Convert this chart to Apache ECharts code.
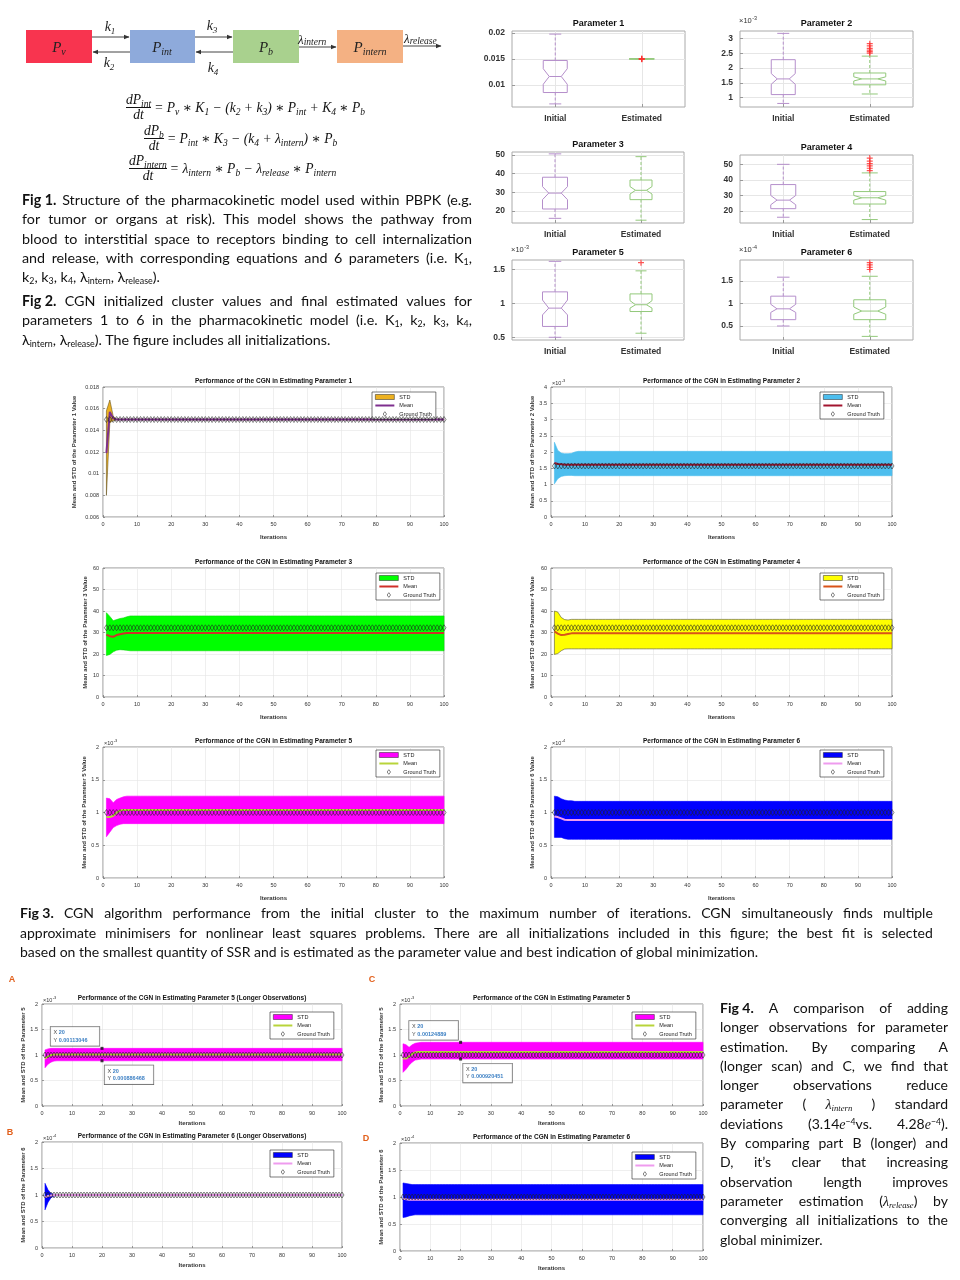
<!DOCTYPE html>
<html>
<head>
<meta charset="utf-8">
<script src="https://cdn.jsdelivr.net/npm/echarts@6/dist/echarts.min.js"></script>
<style>
html,body{margin:0;padding:0;background:#fff;}
#page{position:relative;width:960px;height:1280px;overflow:hidden;background:#fff;}
#chart{position:absolute;left:0;top:0;width:960px;height:1280px;}
.tb{position:absolute;font-family:'Lato','Open Sans',sans-serif;color:#111;}
.row{white-space:nowrap;overflow:visible;}
.inner{display:inline-block;white-space:nowrap;}
.tb sub{font-size:0.62em;vertical-align:-0.25em;line-height:0;}
.tb sup{font-size:0.62em;vertical-align:0.45em;line-height:0;}
var{font-family:'Liberation Serif','DejaVu Serif',serif;font-style:italic;}
.eq{position:absolute;display:flex;align-items:center;font-family:'Liberation Serif','DejaVu Serif',serif;font-style:italic;font-size:13.6px;color:#111;white-space:nowrap;}
.frac{display:inline-flex;flex-direction:column;align-items:center;line-height:14px;margin-right:3px;}
.frac .den{border-top:1px solid #111;padding:0 1px;align-self:stretch;text-align:center;}
.eq sub{font-size:0.7em;vertical-align:-0.3em;line-height:0;}
svg text{font-family:'Liberation Serif','DejaVu Serif',serif;font-style:italic;fill:#222;}
</style>
</head>
<body>
<div id="page">
<div id="chart"></div>
<svg width="480" height="80" style="position:absolute;left:0;top:0">
  <defs>
    <marker id="ah" markerWidth="6" markerHeight="6" refX="5" refY="3" orient="auto" markerUnits="userSpaceOnUse">
      <path d="M0,0.8 L5.5,3 L0,5.2 Z" fill="#333"/>
    </marker>
  </defs>
  <rect x="26" y="30" width="66" height="33" fill="#F8344F"/>
  <rect x="130" y="30" width="65" height="33" fill="#8EAADB"/>
  <rect x="233" y="30" width="66" height="33" fill="#A9D18E"/>
  <rect x="337" y="30" width="66" height="33" fill="#F4B183"/>
  <text x="59" y="52" font-size="15" text-anchor="middle">P<tspan font-size="10" dy="3">v</tspan></text>
  <text x="162" y="52" font-size="15" text-anchor="middle">P<tspan font-size="10" dy="3">int</tspan></text>
  <text x="266" y="52" font-size="15" text-anchor="middle">P<tspan font-size="10" dy="3">b</tspan></text>
  <text x="370" y="52" font-size="15" text-anchor="middle">P<tspan font-size="10" dy="3">intern</tspan></text>
  <line x1="92" y1="37" x2="129" y2="37" stroke="#444" stroke-width="1" marker-end="url(#ah)"/>
  <line x1="130" y1="52" x2="93" y2="52" stroke="#444" stroke-width="1" marker-end="url(#ah)"/>
  <line x1="195" y1="37" x2="232" y2="37" stroke="#444" stroke-width="1" marker-end="url(#ah)"/>
  <line x1="233" y1="52" x2="196" y2="52" stroke="#444" stroke-width="1" marker-end="url(#ah)"/>
  <line x1="299" y1="47" x2="336" y2="47" stroke="#444" stroke-width="1" marker-end="url(#ah)"/>
  <line x1="403" y1="46" x2="441" y2="46" stroke="#444" stroke-width="1" marker-end="url(#ah)"/>
  <text x="110" y="31" font-size="14" text-anchor="middle">k<tspan font-size="9" dy="3">1</tspan></text>
  <text x="109" y="67" font-size="14" text-anchor="middle">k<tspan font-size="9" dy="3">2</tspan></text>
  <text x="212" y="30" font-size="14" text-anchor="middle">k<tspan font-size="9" dy="3">3</tspan></text>
  <text x="213" y="72" font-size="14" text-anchor="middle">k<tspan font-size="9" dy="3">4</tspan></text>
  <text x="298" y="44" font-size="13">λ<tspan font-size="9.5" dy="1">intern</tspan></text>
  <text x="404" y="43" font-size="13">λ<tspan font-size="9.5" dy="1">release</tspan></text>
</svg>

<div class="eq" style="left:126px;top:93px">
  <span class="frac"><span>dP<sub>int</sub></span><span class="den">dt</span></span>
  <span>= P<sub>v</sub> ∗ K<sub>1</sub> − (k<sub>2</sub> + k<sub>3</sub>) ∗ P<sub>int</sub> + K<sub>4</sub> ∗ P<sub>b</sub></span>
</div>
<div class="eq" style="left:144px;top:124px">
  <span class="frac"><span>dP<sub>b</sub></span><span class="den">dt</span></span>
  <span>= P<sub>int</sub> ∗ K<sub>3</sub> − (k<sub>4</sub> + λ<sub>intern</sub>) ∗ P<sub>b</sub></span>
</div>
<div class="eq" style="left:129px;top:154px">
  <span class="frac"><span>dP<sub>intern</sub></span><span class="den">dt</span></span>
  <span>= λ<sub>intern</sub> ∗ P<sub>b</sub> − λ<sub>release</sub> ∗ P<sub>intern</sub></span>
</div>
</div>

<script>
// ====================== DATA ======================
const ITERATIONS = 100;
const boxCategories = ['Initial', 'Estimated'];

// Fig 2 box plots: [lower whisker, Q1, median, Q3, upper whisker, notch low, notch high]
const p1Initial   = [0.0063, 0.0085, 0.0116, 0.0147, 0.0198, 0.0101, 0.0131];
const p1Estimated = [0.0150, 0.0150, 0.0150, 0.0150, 0.0150, 0.0150, 0.0150];
const p1Outliers  = [0.01493, 0.0150, 0.01507];
const p1Ticks     = [0.01, 0.015, 0.02];

const p2Initial   = [0.80, 1.10, 1.63, 2.28, 3.17, 1.45, 1.81];   // x1e-3
const p2Estimated = [1.12, 1.43, 1.63, 1.83, 2.40, 1.56, 1.70];
const p2Outliers  = [2.50, 2.55, 2.60, 2.66, 2.75, 2.82];
const p2Ticks     = [1, 1.5, 2, 2.5, 3];

const p3Initial   = [16, 21, 29.5, 38, 50.5, 26, 33];
const p3Estimated = [15, 26, 31, 36.5, 49, 29, 33];
const p3Outliers  = [];
const p3Ticks     = [20, 30, 40, 50];

const p4Initial   = [16, 21.5, 27, 37, 50, 24, 30];
const p4Estimated = [14.5, 24.5, 28.5, 32.5, 44.5, 27, 30];
const p4Outliers  = [46, 47.5, 49, 50.5, 52, 54];
const p4Ticks     = [20, 30, 40, 50];

const p5Initial   = [0.50, 0.66, 0.93, 1.17, 1.62, 0.83, 1.05];   // x1e-3
const p5Estimated = [0.56, 0.88, 0.98, 1.14, 1.48, 0.93, 1.04];
const p5Outliers  = [1.60];
const p5Ticks     = [0.5, 1, 1.5];

const p6Initial   = [0.50, 0.64, 0.88, 1.16, 1.58, 0.80, 0.98];   // x1e-4
const p6Estimated = [0.27, 0.64, 0.83, 1.08, 1.60, 0.76, 0.92];
const p6Outliers  = [1.75, 1.80, 1.85, 1.90];
const p6Ticks     = [0.5, 1, 1.5];

// Fig 3 / Fig 4: values for the first iterations, then the settled value up to iteration 100
const pf1LowerStart = [0.0080, 0.0147, 0.0149];  const pf1Lower = 0.01497;
const pf1UpperStart = [0.0158, 0.0168, 0.0153];  const pf1Upper = 0.01503;
const pf1MeanStart  = [0.0119, 0.0157, 0.0151];  const pf1Mean  = 0.0150;
const pf1Truth = 0.0150;

const pf2LowerStart = [1.02, 1.18, 1.25, 1.27, 1.28, 1.28, 1.27]; const pf2Lower = 1.27;  // x1e-3
const pf2UpperStart = [2.30, 2.05, 1.97, 1.95, 1.95, 1.96, 2.00]; const pf2Upper = 2.02;
const pf2MeanStart  = [1.66, 1.63, 1.62];                           const pf2Mean  = 1.61;
const pf2Truth = 1.57;

const pf3LowerStart = [19.3, 19.8, 21.0, 21.8, 22.0, 21.9, 21.7]; const pf3Lower = 21.5;
const pf3UpperStart = [39.2, 37.5, 35.5, 36.0, 36.5, 36.8, 37.3]; const pf3Upper = 37.7;
const pf3MeanStart  = [29.0, 28.3, 28.0, 28.8, 29.2, 29.5];       const pf3Mean  = 29.8;
const pf3Truth = 32.2;

const pf4LowerStart = [19.8, 20.2, 21.5, 22.3, 22.4];             const pf4Lower = 22.4;
const pf4UpperStart = [40.0, 39.5, 37.0, 36.0, 35.8];             const pf4Upper = 36.1;
const pf4MeanStart  = [30.5, 29.5, 28.8, 29.0, 29.3];             const pf4Mean  = 29.6;
const pf4Truth = 32.2;

const pf5LowerStart = [0.63, 0.70, 0.77, 0.80, 0.82];             const pf5Lower = 0.83;  // x1e-3
const pf5UpperStart = [1.22, 1.21, 1.15, 1.20, 1.22, 1.24];       const pf5Upper = 1.25;
const pf5MeanStart  = [0.93, 0.93, 0.95, 1.00, 1.03];             const pf5Mean  = 1.04;
const pf5Truth = 1.00;

const pf6LowerStart = [0.62, 0.62, 0.62, 0.60];                   const pf6Lower = 0.59;  // x1e-4
const pf6UpperStart = [1.25, 1.24, 1.21, 1.19, 1.18, 1.18];       const pf6Upper = 1.17;
const pf6MeanStart  = [0.94, 0.93, 0.91, 0.89];                   const pf6Mean  = 0.885;
const pf6Truth = 1.00;

const pfALowerStart = [0.75, 0.82, 0.86, 0.88];                   const pfALower = 0.886468;  // x1e-3
const pfAUpperStart = [1.10, 1.12, 1.13];                         const pfAUpper = 1.13046;
const pfAMeanStart  = [0.93, 0.97, 1.00];                         const pfAMean  = 1.008;
const pfATruth = 1.00;

const pfBLowerStart = [0.72, 0.86, 0.95, 0.98];                   const pfBLower = 0.995;  // x1e-4
const pfBUpperStart = [1.22, 1.10, 1.03, 1.01];                   const pfBUpper = 1.005;
const pfBMeanStart  = [0.96, 0.98, 0.99];                         const pfBMean  = 1.00;
const pfBTruth = 1.00;

const pfCLowerStart = [0.66, 0.72, 0.80, 0.86, 0.90, 0.91];       const pfCLower = 0.920451;  // x1e-3
const pfCUpperStart = [1.22, 1.20, 1.15, 1.20, 1.23, 1.24];       const pfCUpper = 1.24889;
const pfCMeanStart  = [0.93, 0.93, 0.97, 1.02, 1.05];             const pfCMean  = 1.06;
const pfCTruth = 1.00;

const pfDLowerStart = [0.62, 0.63, 0.65, 0.66];                   const pfDLower = 0.67;  // x1e-4
const pfDUpperStart = [1.26, 1.25, 1.24];                         const pfDUpper = 1.23;
const pfDMeanStart  = [0.97, 0.96];                               const pfDMean  = 0.95;
const pfDTruth = 1.00;

// data tips (Fig 4 A and C)
const tipIteration = 20;
const tipsA = [{ y: 1.13046, text: '0.00113046' }, { y: 0.886468, text: '0.000886468' }];
const tipsC = [{ y: 1.24889, text: '0.00124889' }, { y: 0.920451, text: '0.000920451' }];

// ====================== TEXT BLOCKS ======================
const fig1Lines = [
  '<b>Fig&nbsp;1.</b> Structure of the pharmacokinetic model used within PBPK (e.g.',
  'for tumor or organs at risk). This model shows the pathway from',
  'blood to interstitial space to receptors binding to cell internalization',
  'and release, with corresponding equations and 6 parameters (i.e. K<sub>1</sub>,',
  'k<sub>2</sub>, k<sub>3</sub>, k<sub>4</sub>, λ<sub>intern</sub>, λ<sub>release</sub>).'
];
const fig2Lines = [
  '<b>Fig&nbsp;2.</b> CGN initialized cluster values and final estimated values for',
  'parameters 1 to 6 in the pharmacokinetic model (i.e. K<sub>1</sub>, k<sub>2</sub>, k<sub>3</sub>, k<sub>4</sub>,',
  'λ<sub>intern</sub>, λ<sub>release</sub>). The figure includes all initializations.'
];
const fig3Lines = [
  '<b>Fig&nbsp;3.</b> CGN algorithm performance from the initial cluster to the maximum number of iterations. CGN simultaneously finds multiple',
  'approximate minimisers for nonlinear least squares problems. There are all initializations included in this figure; the best fit is selected',
  'based on the smallest quantity of SSR and is estimated as the parameter value and best indication of global minimization.'
];
const fig4Lines = [
  '<b>Fig&nbsp;4.</b> A comparison of adding',
  'longer observations for parameter',
  'estimation. By comparing A',
  '(longer scan) and C, we find that',
  'longer observations reduce',
  'parameter ( <var>λ<sub>intern</sub></var> ) standard',
  'deviations (3.14<var>e</var><sup>−4</sup>vs. 4.28<var>e</var><sup>−4</sup>).',
  'By comparing part B (longer) and',
  'D, it’s clear that increasing',
  'observation length improves',
  'parameter estimation (<var>λ<sub>release</sub></var>) by',
  'converging all initializations to the',
  'global minimizer.'
];

function textBlock(o) {
  const box = document.createElement('div');
  box.className = 'tb';
  box.style.left = o.left + 'px'; box.style.top = o.top + 'px';
  box.style.width = o.width + 'px'; box.style.fontSize = o.size + 'px';
  document.getElementById('page').appendChild(box);
  o.lines.forEach((html, i) => {
    const isLast = i === o.lines.length - 1;
    const row = document.createElement('div');
    row.className = 'row';
    row.style.height = o.lh + 'px'; row.style.lineHeight = o.lh + 'px';
    const inner = document.createElement('span');
    inner.className = 'inner';
    inner.innerHTML = html;
    row.appendChild(inner); box.appendChild(row);
    const natural = inner.getBoundingClientRect().width;
    const scale = natural > o.width ? o.width / natural : 1;
    if (!isLast) {
      const words = html.split(' ').filter(w => w.length);
      inner.innerHTML = words.map(w => '<span>' + w + '</span>').join('');
      inner.style.display = 'flex';
      inner.style.justifyContent = 'space-between';
      inner.style.width = (scale < 1 ? natural : o.width) + 'px';
    }
    if (scale < 1) {
      inner.style.transform = 'scaleX(' + scale + ')';
      inner.style.transformOrigin = '0 0';
    }
  });
}
textBlock({ left: 22, top: 190, width: 450, lh: 19.3, size: 14.3, lines: fig1Lines });
textBlock({ left: 22, top: 291, width: 450, lh: 19.3, size: 14.3, lines: fig2Lines });
textBlock({ left: 20, top: 903, width: 913, lh: 19.6, size: 14, lines: fig3Lines });
textBlock({ left: 720, top: 998, width: 228, lh: 19.3, size: 14, lines: fig4Lines });

// ====================== CHART ======================
const FONT = '"Liberation Sans", Arial, sans-serif';
const chart = echarts.init(document.getElementById('chart'), null, { renderer: 'canvas' });
const grids = [], xAxes = [], yAxes = [], series = [], legends = [], graphics = [];
const boxColors = ['#b58fcb', '#93c97b'];
const plusSymbol = 'path://M4,0 L6,0 L6,4 L10,4 L10,6 L6,6 L6,10 L4,10 L4,6 L0,6 L0,4 L4,4 Z';
// legend icons drawn in a 19x5 box so they keep their proportions
const iconLine = 'path://M0,0 L0,0 M0,1.5 L19,1.5 L19,3.5 L0,3.5 Z M19,5 L19,5';
const iconDiamond = 'path://M0,0 L0,0 M9.5,0.2 L11.2,2.5 L9.5,4.8 L7.8,2.5 Z M19,5 L19,5';

function fmt(v) { return String(parseFloat(Number(v).toFixed(6))); }
function settle(start, steady) {
  const out = start.slice();
  while (out.length < ITERATIONS) out.push(steady);
  return out;
}
function textEl(x, y, text, size, weight, align, color) {
  graphics.push({ type: 'text', x: x, y: y, silent: true, z: 100,
    style: { text: text, fontSize: size, fontWeight: weight || 'normal', fontFamily: FONT,
      fill: color || '#222', align: align || 'center', verticalAlign: 'middle' } });
}
function expEl(x, y, pow, size) {
  textEl(x, y, '×10', size, 'normal', 'left', '#333');
  textEl(x + size * 1.75, y - size * 0.35, pow, size * 0.72, 'normal', 'left', '#333');
}

function renderNotchBox(params, api) {
  const x = api.value(0);
  const lo = api.value(1), q1 = api.value(2), med = api.value(3), q3 = api.value(4), hi = api.value(5);
  const n1 = api.value(6), n2 = api.value(7);
  const color = boxColors[api.value(8)];
  const hw = api.value(9);
  const cx = api.coord([x, med])[0];
  const y = v => api.coord([x, v])[1];
  const nw = hw * 0.5, cw = hw * 0.5;
  const poly = [[cx - hw, y(q1)], [cx - hw, y(n1)], [cx - nw, y(med)], [cx - hw, y(n2)], [cx - hw, y(q3)],
    [cx + hw, y(q3)], [cx + hw, y(n2)], [cx + nw, y(med)], [cx + hw, y(n1)], [cx + hw, y(q1)]];
  const st = { stroke: color, lineWidth: 1, fill: null };
  return { type: 'group', children: [
    { type: 'polygon', shape: { points: poly }, style: { stroke: color, lineWidth: 1, fill: 'rgba(0,0,0,0)' } },
    { type: 'line', shape: { x1: cx - nw, y1: y(med), x2: cx + nw, y2: y(med) }, style: st },
    { type: 'line', shape: { x1: cx, y1: y(q3), x2: cx, y2: y(hi) }, style: Object.assign({ lineDash: [3, 2] }, st) },
    { type: 'line', shape: { x1: cx, y1: y(q1), x2: cx, y2: y(lo) }, style: Object.assign({ lineDash: [3, 2] }, st) },
    { type: 'line', shape: { x1: cx - cw, y1: y(hi), x2: cx + cw, y2: y(hi) }, style: st },
    { type: 'line', shape: { x1: cx - cw, y1: y(lo), x2: cx + cw, y2: y(lo) }, style: st }
  ] };
}

function addBox(b) {
  const gi = grids.length;
  grids.push({ left: b.left, top: b.top, width: b.w, height: b.h, show: true,
    borderColor: '#aaaaaa', borderWidth: 1, backgroundColor: '#fff' });
  xAxes.push({ gridIndex: gi, type: 'value', min: 0.5, max: 2.5,
    axisLine: { show: false },
    axisTick: { show: true, inside: true, length: 3, customValues: [1, 2], lineStyle: { color: '#999' } },
    axisLabel: { customValues: [1, 2], formatter: v => boxCategories[Math.round(v) - 1] || '',
      fontSize: 8.5, fontWeight: 'bold', color: '#333', margin: 7, fontFamily: FONT },
    splitLine: { show: true, lineStyle: { color: '#e6e6e6', width: 1 } } });
  yAxes.push({ gridIndex: gi, type: 'value', min: b.min, max: b.max,
    axisLine: { show: false },
    axisTick: { show: true, inside: true, length: 3, customValues: b.ticks, lineStyle: { color: '#999' } },
    axisLabel: { customValues: b.ticks, formatter: fmt, fontSize: 8.5, fontWeight: 'bold', color: '#333',
      margin: 7, fontFamily: FONT },
    splitLine: { show: true, lineStyle: { color: '#e6e6e6', width: 1 } } });
  series.push({ type: 'custom', xAxisIndex: gi, yAxisIndex: gi, renderItem: renderNotchBox, silent: true, z: 3,
    clip: false, encode: { x: 0, y: [1, 2, 3, 4, 5] },
    data: [[1].concat(b.initial, [0, b.hw[0]]), [2].concat(b.estimated, [1, b.hw[1]])] });
  if (b.outliers.length) {
    series.push({ type: 'scatter', xAxisIndex: gi, yAxisIndex: gi, silent: true, z: 5,
      symbol: plusSymbol, symbolSize: 6, itemStyle: { color: '#ff2a2a' },
      data: b.outliers.map(v => [2, v]) });
  }
  textEl(b.left + b.w / 2, b.top - 7, b.title, 9, 'bold', 'center', '#111');
  if (b.exp) expEl(b.left - 1, b.top - 10, b.exp, 7.5);
}

function addPerf(p) {
  const gi = grids.length;
  const id = 'c' + gi;
  grids.push({ left: p.left, top: p.top, width: p.w, height: p.h, show: true,
    borderColor: '#444', borderWidth: 0.6, backgroundColor: '#fff' });
  xAxes.push({ gridIndex: gi, type: 'value', min: 0, max: 100, interval: 10,
    axisLine: { show: false },
    axisTick: { show: true, inside: true, length: 2, lineStyle: { color: '#444', width: 0.5 } },
    axisLabel: { fontSize: 5.5, color: '#333', margin: 4, fontFamily: FONT },
    splitLine: { show: true, lineStyle: { color: '#e4e4e4', width: 0.6 } },
    name: 'Iterations', nameLocation: 'middle', nameGap: p.xNameGap || 17,
    nameTextStyle: { fontSize: 6, fontWeight: 'bold', color: '#333', fontFamily: FONT } });
  yAxes.push({ gridIndex: gi, type: 'value', min: p.min, max: p.max, interval: p.interval,
    axisLine: { show: false },
    axisTick: { show: true, inside: true, length: 2, lineStyle: { color: '#444', width: 0.5 } },
    axisLabel: { fontSize: 5.5, color: '#333', margin: 4, fontFamily: FONT, formatter: fmt },
    splitLine: { show: true, lineStyle: { color: '#e4e4e4', width: 0.6 } },
    name: p.yName, nameLocation: 'middle', nameGap: p.yNameGap, nameRotate: 90,
    nameTextStyle: { fontSize: 6, fontWeight: 'bold', color: '#333', fontFamily: FONT } });
  const lower = settle(p.lowerStart, p.lower);
  const upper = settle(p.upperStart, p.upper);
  const mean = settle(p.meanStart, p.mean);
  const xs = lower.map((_, i) => i + 1);
  // STD band: one polygon through the upper and lower edges
  series.push({ name: 'STD_' + id, type: 'custom', xAxisIndex: gi, yAxisIndex: gi, silent: true, z: 2,
    itemStyle: { color: p.band, borderColor: p.edge, borderWidth: 0.6 },
    encode: { x: 0, y: [1, 2] },
    data: xs.map((x, i) => [x, lower[i], upper[i]]),
    renderItem: (params, api) => {
      if (params.dataIndex !== 0) return null;
      const topPts = xs.map((x, i) => api.coord([x, upper[i]]));
      const botPts = xs.map((x, i) => api.coord([x, lower[i]])).reverse();
      return { type: 'polygon', shape: { points: topPts.concat(botPts) },
        style: { fill: p.band, stroke: p.edge, lineWidth: 0.6 } };
    } });
  series.push({ name: 'Mean_' + id, type: 'line', xAxisIndex: gi, yAxisIndex: gi, symbol: 'none', silent: true,
    z: 3, color: p.meanColor, lineStyle: { width: 2, color: p.meanColor }, itemStyle: { color: p.meanColor },
    data: xs.map((x, i) => [x, mean[i]]) });
  series.push({ name: 'Ground Truth_' + id, type: 'scatter', xAxisIndex: gi, yAxisIndex: gi, silent: true, z: 4,
    symbol: 'diamond', symbolSize: [4, 6],
    itemStyle: { color: 'rgba(0,0,0,0)', borderColor: '#222', borderWidth: 0.7 },
    data: xs.map(x => [x, p.truth]) });
  (p.tips || []).forEach(t => {
    series.push({ type: 'scatter', xAxisIndex: gi, yAxisIndex: gi, silent: true, z: 10,
      symbol: 'rect', symbolSize: 3, itemStyle: { color: '#111' },
      data: [[tipIteration, t.y]],
      label: { show: true, position: t.pos, width: 43,
        formatter: '{k|X} {v|' + tipIteration + '}\n{k|Y} {v|' + t.text + '}',
        backgroundColor: '#fff', borderColor: '#333', borderWidth: 0.6, padding: [2, 3, 2, 3],
        lineHeight: 7.5, fontSize: 5.5,
        rich: { k: { fontSize: 5.5, color: '#111', fontFamily: FONT, lineHeight: 7.5 },
          v: { fontSize: 5.5, color: '#0a5fb4', fontWeight: 'bold', fontFamily: FONT, lineHeight: 7.5 } } } });
  });
  legends.push({ left: p.legend[0], top: p.legend[1], orient: 'vertical', selectedMode: false,
    itemWidth: 19, itemHeight: 5, itemGap: 2.5, padding: [2, 4, 2, 3],
    backgroundColor: '#fff', borderColor: '#222', borderWidth: 0.6, borderRadius: 0,
    textStyle: { fontSize: 5.5, color: '#222', fontFamily: FONT },
    formatter: n => n.split('_')[0],
    data: [
      { name: 'STD_' + id, icon: 'rect', itemStyle: { color: p.band, borderColor: '#222', borderWidth: 0.5 } },
      { name: 'Mean_' + id, icon: iconLine, itemStyle: { color: p.meanColor, borderWidth: 0 } },
      { name: 'Ground Truth_' + id, icon: iconDiamond,
        itemStyle: { color: 'rgba(0,0,0,0)', borderColor: '#222', borderWidth: 0.7 } }
    ] });
  textEl(p.left + p.w / 2, p.top - 6, p.title, 6.5, 'bold', 'center', '#111');
  if (p.exp) expEl(p.left + 1, p.top - 4, p.exp, 5.5);
}

// ---- Fig 2 box plots ----
addBox({ left: 512, top: 31, w: 173, h: 76, min: 0.0057, max: 0.0204, ticks: p1Ticks, title: 'Parameter 1',
  initial: p1Initial, estimated: p1Estimated, outliers: p1Outliers, hw: [12, 12.5] });
addBox({ left: 740, top: 31, w: 173, h: 76, min: 0.68, max: 3.25, ticks: p2Ticks, title: 'Parameter 2', exp: '-3',
  initial: p2Initial, estimated: p2Estimated, outliers: p2Outliers, hw: [12, 16] });
addBox({ left: 512, top: 152, w: 172, h: 71, min: 13.5, max: 51.5, ticks: p3Ticks, title: 'Parameter 3',
  initial: p3Initial, estimated: p3Estimated, outliers: p3Outliers, hw: [12.5, 11] });
addBox({ left: 740, top: 155, w: 173, h: 68, min: 12.3, max: 56, ticks: p4Ticks, title: 'Parameter 4',
  initial: p4Initial, estimated: p4Estimated, outliers: p4Outliers, hw: [12.5, 16] });
addBox({ left: 512, top: 260, w: 172, h: 80, min: 0.46, max: 1.64, ticks: p5Ticks, title: 'Parameter 5', exp: '-3',
  initial: p5Initial, estimated: p5Estimated, outliers: p5Outliers, hw: [12.5, 11] });
addBox({ left: 740, top: 260, w: 173, h: 80, min: 0.19, max: 1.96, ticks: p6Ticks, title: 'Parameter 6', exp: '-4',
  initial: p6Initial, estimated: p6Estimated, outliers: p6Outliers, hw: [12.5, 16] });

// ---- Fig 3 performance charts ----
addPerf({ left: 103, top: 387, w: 341, h: 130, min: 0.006, max: 0.018, interval: 0.002,
  yName: 'Mean and STD of the Parameter 1 Value', yNameGap: 26,
  title: 'Performance of the CGN in Estimating Parameter 1', band: '#EDB120', edge: '#6a5520', meanColor: '#7E2F8E',
  lowerStart: pf1LowerStart, lower: pf1Lower, upperStart: pf1UpperStart, upper: pf1Upper,
  meanStart: pf1MeanStart, mean: pf1Mean, truth: pf1Truth, legend: [372, 392] });
addPerf({ left: 551, top: 387, w: 341, h: 130, min: 0, max: 4, interval: 0.5, exp: '-3',
  yName: 'Mean and STD of the Parameter 2 Value', yNameGap: 16,
  title: 'Performance of the CGN in Estimating Parameter 2', band: '#4DBEEE', edge: '#4DBEEE', meanColor: '#A2142F',
  lowerStart: pf2LowerStart, lower: pf2Lower, upperStart: pf2UpperStart, upper: pf2Upper,
  meanStart: pf2MeanStart, mean: pf2Mean, truth: pf2Truth, legend: [820, 392] });
addPerf({ left: 103, top: 568, w: 341, h: 129, min: 0, max: 60, interval: 10,
  yName: 'Mean and STD of the Parameter 3 Value', yNameGap: 15,
  title: 'Performance of the CGN in Estimating Parameter 3', band: '#00FF00', edge: '#00dd00', meanColor: '#D0302A',
  lowerStart: pf3LowerStart, lower: pf3Lower, upperStart: pf3UpperStart, upper: pf3Upper,
  meanStart: pf3MeanStart, mean: pf3Mean, truth: pf3Truth, legend: [376, 573] });
addPerf({ left: 551, top: 568, w: 341, h: 129, min: 0, max: 60, interval: 10,
  yName: 'Mean and STD of the Parameter 4 Value', yNameGap: 16,
  title: 'Performance of the CGN in Estimating Parameter 4', band: '#FFFF00', edge: '#555533', meanColor: '#D95319',
  lowerStart: pf4LowerStart, lower: pf4Lower, upperStart: pf4UpperStart, upper: pf4Upper,
  meanStart: pf4MeanStart, mean: pf4Mean, truth: pf4Truth, legend: [820, 573] });
addPerf({ left: 103, top: 747, w: 341, h: 131, min: 0, max: 2, interval: 0.5, exp: '-3',
  yName: 'Mean and STD of the Parameter 5 Value', yNameGap: 15,
  title: 'Performance of the CGN in Estimating Parameter 5', band: '#FF00FF', edge: '#FF00FF', meanColor: '#B8D43A',
  lowerStart: pf5LowerStart, lower: pf5Lower, upperStart: pf5UpperStart, upper: pf5Upper,
  meanStart: pf5MeanStart, mean: pf5Mean, truth: pf5Truth, legend: [376, 750] });
addPerf({ left: 551, top: 747, w: 341, h: 131, min: 0, max: 2, interval: 0.5, exp: '-4',
  yName: 'Mean and STD of the Parameter 6 Value', yNameGap: 16,
  title: 'Performance of the CGN in Estimating Parameter 6', band: '#0000FF', edge: '#0000FF', meanColor: '#EE9BEE',
  lowerStart: pf6LowerStart, lower: pf6Lower, upperStart: pf6UpperStart, upper: pf6Upper,
  meanStart: pf6MeanStart, mean: pf6Mean, truth: pf6Truth, legend: [820, 750] });

// ---- Fig 4 panels ----
addPerf({ left: 42, top: 1004, w: 300, h: 102, min: 0, max: 2, interval: 0.5, exp: '-3',
  yName: 'Mean and STD of the Parameter 5', yNameGap: 16, xNameGap: 14,
  title: 'Performance of the CGN in Estimating Parameter 5 (Longer Observations)', band: '#FF00FF', edge: '#FF00FF',
  meanColor: '#B8D43A', lowerStart: pfALowerStart, lower: pfALower, upperStart: pfAUpperStart, upper: pfAUpper,
  meanStart: pfAMeanStart, mean: pfAMean, truth: pfATruth, legend: [270, 1012],
  tips: [{ y: tipsA[0].y, text: tipsA[0].text, pos: [-50, -20] }, { y: tipsA[1].y, text: tipsA[1].text, pos: [4, 6] }] });
addPerf({ left: 42, top: 1142, w: 300, h: 106, min: 0, max: 2, interval: 0.5, exp: '-4',
  yName: 'Mean and STD of the Parameter 6', yNameGap: 16, xNameGap: 14,
  title: 'Performance of the CGN in Estimating Parameter 6 (Longer Observations)', band: '#0000FF', edge: '#0000FF',
  meanColor: '#EE9BEE', lowerStart: pfBLowerStart, lower: pfBLower, upperStart: pfBUpperStart, upper: pfBUpper,
  meanStart: pfBMeanStart, mean: pfBMean, truth: pfBTruth, legend: [270, 1150] });
addPerf({ left: 400, top: 1004, w: 303, h: 102, min: 0, max: 2, interval: 0.5, exp: '-3',
  yName: 'Mean and STD of the Parameter 5', yNameGap: 16, xNameGap: 14,
  title: 'Performance of the CGN in Estimating Parameter 5', band: '#FF00FF', edge: '#FF00FF',
  meanColor: '#B8D43A', lowerStart: pfCLowerStart, lower: pfCLower, upperStart: pfCUpperStart, upper: pfCUpper,
  meanStart: pfCMeanStart, mean: pfCMean, truth: pfCTruth, legend: [632, 1012],
  tips: [{ y: tipsC[0].y, text: tipsC[0].text, pos: [-50, -20] }, { y: tipsC[1].y, text: tipsC[1].text, pos: [4, 6] }] });
addPerf({ left: 400, top: 1143, w: 303, h: 108, min: 0, max: 2, interval: 0.5, exp: '-4',
  yName: 'Mean and STD of the Parameter 6', yNameGap: 16, xNameGap: 14,
  title: 'Performance of the CGN in Estimating Parameter 6', band: '#0000FF', edge: '#0000FF',
  meanColor: '#EE9BEE', lowerStart: pfDLowerStart, lower: pfDLower, upperStart: pfDUpperStart, upper: pfDUpper,
  meanStart: pfDMeanStart, mean: pfDMean, truth: pfDTruth, legend: [632, 1152] });

// panel letters
textEl(12, 980, 'A', 9, 'bold', 'center', '#E2601C');
textEl(10, 1133, 'B', 9, 'bold', 'center', '#E2601C');
textEl(372, 980, 'C', 9, 'bold', 'center', '#E2601C');
textEl(366, 1139, 'D', 9, 'bold', 'center', '#E2601C');

chart.setOption({
  animation: false,
  backgroundColor: '#fff',
  grid: grids, xAxis: xAxes, yAxis: yAxes, series: series, legend: legends,
  graphic: { elements: graphics }
});
</script>
</body>
</html>
